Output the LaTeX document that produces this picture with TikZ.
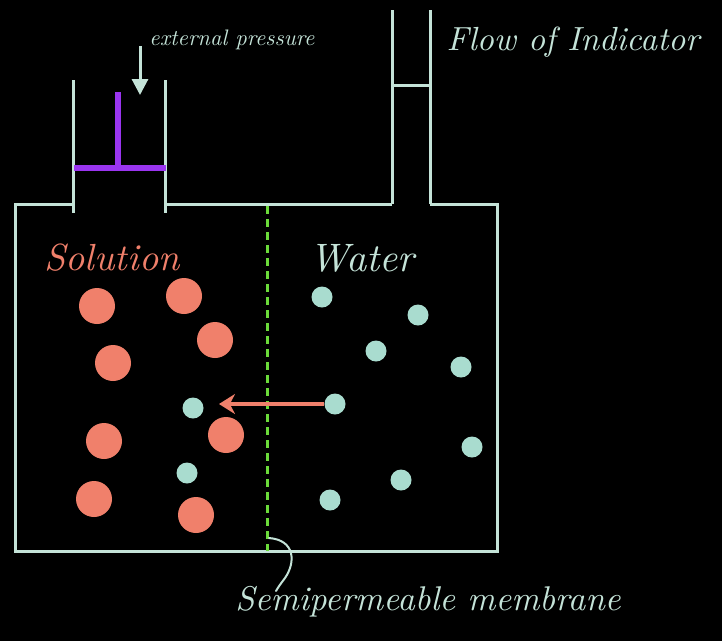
\documentclass[tikz,border=0pt]{standalone}
\usepackage{fontspec}
\usepackage{graphicx}
\usetikzlibrary{arrows.meta}
\definecolor{chalk}{HTML}{C4E3D8}
\definecolor{tealdot}{HTML}{A9DCCF}
\definecolor{salmon}{HTML}{F0806B}
\definecolor{pistonc}{HTML}{9A35F0}
\definecolor{memgreen}{HTML}{6BDB3A}
\begin{document}
\begin{tikzpicture}[x=1pt,y=-1pt,
  wall/.style={draw=chalk,line width=3pt},
  rod/.style={draw=pistonc,line width=6pt},
  solute/.style={circle,fill=salmon,minimum size=36pt,inner sep=0pt},
  water/.style={circle,fill=tealdot,minimum size=21pt,inner sep=0pt},
  hand/.style={inner sep=0pt,font=\itshape},
  osmo/.style={draw=salmon,line width=3.5pt,-{Stealth[length=16pt,width=20pt]}},
  push/.style={draw=chalk,line width=3pt,-{Triangle[length=16pt,width=16pt]}},
  curl/.style={draw=chalk,line width=2pt,line cap=round}]
\fill[black] (0,0) rectangle (722,641);
\useasboundingbox (0,0) rectangle (722,641);

% vessel
\draw[wall] (73,204) -| (15,551) -| (497,204) -- (430,204);
\draw[wall] (165,204) -- (392,204);
% piston cylinder
\draw[wall] (73,80) -- (73,213);
\draw[wall] (165,80) -- (165,213);
% indicator tube
\draw[wall] (392,10) -- (392,204);
\draw[wall] (430,10) -- (430,204);
\draw[wall] (392,85) -- (430,85);

% piston
\draw[rod] (74,168) -- (166,168);
\draw[rod] (118,92) -- (118,168);

% semipermeable membrane
\coordinate (memtop) at (267,206);
\coordinate (membot) at (267,551);
\draw[memgreen,line width=3pt,dash pattern=on 8pt off 5pt] (memtop) -- (membot);

% labels
\node[hand,text=chalk] (ext) at (232,40) {\resizebox{165pt}{!}{external pressure}};
\node[hand,text=chalk] (flow) at (573,42) {\resizebox{253pt}{!}{Flow of Indicator}};
\node[hand,text=salmon] (sol) at (112,258) {\resizebox{135pt}{!}{Solution}};
\node[hand,text=chalk] (wat) at (362,258) {\resizebox{105pt}{!}{Water}};
\node[hand,text=chalk] (mlab) at (428,602) {\resizebox{385pt}{!}{Semipermeable membrane}};

% external pressure arrow
\coordinate (pstart) at (140,46);
\coordinate (pend) at (140,95);
\draw[push] (pstart) -- (pend);

% solute particles
\node[solute] (s1) at (97,306) {};
\node[solute] (s2) at (184,296) {};
\node[solute] (s3) at (215,340) {};
\node[solute] (s4) at (113,363) {};
\node[solute] (s5) at (104,441) {};
\node[solute] (s6) at (226,435) {};
\node[solute] (s7) at (94,499) {};
\node[solute] (s8) at (196,515) {};

% water molecules
\node[water] (w1) at (322,297) {};
\node[water] (w2) at (418,315) {};
\node[water] (w3) at (376,351) {};
\node[water] (w4) at (461,367) {};
\node[water] (w5) at (335,404) {};
\node[water] (w6) at (193,408) {};
\node[water] (w7) at (472,447) {};
\node[water] (w8) at (187,473) {};
\node[water] (w9) at (401,480) {};
\node[water] (w10) at (330,500) {};

% osmotic flow arrow
\coordinate (flowtip) at (219,404);
\draw[osmo] (w5.west) -- (flowtip);

% pointer from membrane to its label
\coordinate (mpt) at (269,538);
\coordinate (mend) at (276,591);
\draw[curl] (mpt) .. controls (295,540) and (296,562) .. (285,578)
  .. controls (279,586) .. (mend);
\end{tikzpicture}
\end{document}
